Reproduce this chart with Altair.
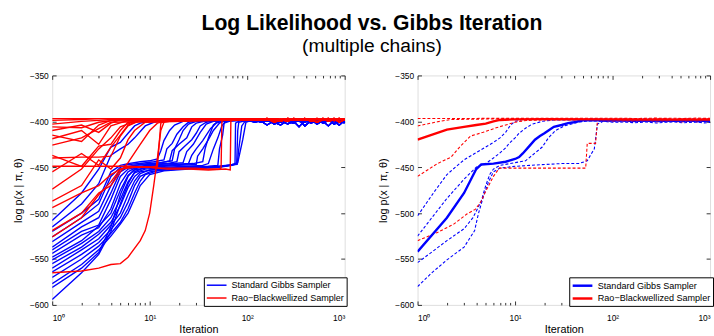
import altair as alt
import pandas as pd

# ---------------- labels / categories ----------------
GIBBS = "Standard Gibbs Sampler"
RAO = "Rao\u2212Blackwellized Sampler"
SAMPLERS = [GIBBS, RAO]
COLORS = ["#0000ff", "#ff0000"]

X_DOMAIN = [1, 1000]
Y_DOMAIN = [-600, -350]
X_MAJOR = [1, 10, 100, 1000]
X_MAJOR_TEXT = ["10\u2070", "10\u00b9", "10\u00b2", "10\u00b3"]
X_MINOR = [2, 3, 4, 5, 6, 7, 8, 9, 20, 30, 40, 50, 60, 70, 80, 90,
           200, 300, 400, 500, 600, 700, 800, 900]
Y_TICKS = [-600, -550, -500, -450, -400, -350]

# ---------------- left panel: individual chains (iteration, log p) ----------------
GIBBS_01 = [(1, -508), (2, -478), (3, -452), (4, -428), (5, -423), (6, -413), (7, -405), (8, -402), (10, -400), (12, -399), (20, -398), (40, -399), (60, -398), (100, -399)]
GIBBS_02 = [(1, -515), (2, -490), (3, -468), (4, -437), (5, -430), (6, -425), (7, -418), (9, -405), (11, -401), (14, -399), (30, -398), (100, -399)]
GIBBS_03 = [(1, -520), (2, -500), (3, -485), (4, -455), (5, -448), (6, -446), (8, -444), (10, -443), (12, -441), (13, -432), (14, -421), (16, -410), (18, -404), (22, -400), (40, -398), (100, -399)]
GIBBS_04 = [(1, -526), (2, -505), (3, -490), (4, -460), (5, -450), (6, -447), (8, -446), (11, -444), (14, -442), (15, -430), (17, -424), (19, -414), (22, -406), (25, -401), (35, -399), (100, -398)]
GIBBS_05 = [(1, -531), (2, -510), (3, -498), (4, -470), (5, -452), (6, -449), (8, -447), (10, -446), (13, -445), (16, -443), (17, -432), (20, -425), (24, -418), (27, -406), (30, -402), (40, -399), (100, -399)]
GIBBS_06 = [(1, -537), (2, -515), (3, -505), (4, -478), (5, -455), (6, -450), (7, -448), (10, -447), (15, -446), (19, -444), (20, -433), (23, -427), (27, -420), (30, -413), (33, -405), (38, -401), (50, -399), (100, -398)]
GIBBS_07 = [(1, -540), (2, -520), (3, -513), (4, -485), (5, -460), (6, -452), (8, -449), (12, -447), (18, -446), (22, -445), (24, -433), (28, -425), (33, -412), (38, -403), (45, -400), (100, -399)]
GIBBS_08 = [(1, -544), (2, -524), (3, -516), (4, -495), (5, -468), (6, -455), (7, -451), (10, -449), (15, -448), (25, -446), (27, -437), (30, -430), (35, -421), (42, -408), (48, -402), (60, -399), (100, -398)]
GIBBS_09 = [(1, -548), (2, -530), (3, -514), (4, -500), (5, -475), (6, -459), (7, -453), (10, -450), (20, -448), (30, -447), (31, -438), (35, -430), (40, -420), (45, -410), (52, -402), (60, -399), (100, -399)]
GIBBS_10 = [(1, -551), (2, -533), (3, -520), (4, -505), (5, -485), (6, -466), (7, -456), (9, -452), (15, -450), (25, -449), (35, -448), (40, -446), (45, -430), (50, -418), (55, -405), (60, -400), (100, -398)]
GIBBS_11 = [(1, -555), (2, -537), (3, -523), (4, -510), (5, -492), (6, -472), (7, -460), (8, -455), (12, -452), (20, -450), (40, -449), (50, -448), (52, -430), (56, -415), (58, -402), (70, -399), (100, -399)]
GIBBS_12 = [(1, -560), (2, -540), (3, -528), (4, -513), (5, -500), (6, -480), (7, -465), (8, -457), (10, -453), (20, -451), (40, -450), (60, -449), (75, -447), (76, -402), (85, -399), (100, -398)]
GIBBS_13 = [(1, -564), (2, -545), (3, -532), (4, -518), (5, -505), (6, -488), (7, -470), (8, -460), (10, -455), (15, -452), (30, -451), (50, -450), (70, -448), (78, -446), (80, -410), (82, -401), (100, -399)]
GIBBS_14 = [(1, -570), (2, -550), (3, -536), (4, -522), (5, -510), (6, -495), (7, -478), (8, -465), (9, -458), (12, -454), (20, -452), (40, -450), (60, -448), (79, -447), (82, -430), (88, -405), (95, -400), (110, -399)]
GIBBS_15 = [(1, -577), (2, -556), (3, -540), (4, -525), (5, -512), (6, -500), (7, -484), (8, -470), (10, -458), (14, -454), (25, -452), (50, -450), (70, -447), (80, -445), (90, -420), (97, -401), (110, -399)]
GIBBS_16 = [(1, -581), (2, -560), (3, -543), (4, -515), (5, -480), (6, -460), (7, -452), (9, -448), (13, -445), (17, -443), (18, -430), (20, -420), (22, -410), (25, -403), (30, -400), (100, -399)]
GIBBS_17 = [(1, -594), (2, -565), (3, -545), (4, -520), (5, -490), (6, -468), (7, -455), (9, -450), (12, -448), (20, -447), (28, -446), (35, -444), (37, -430), (40, -418), (45, -404), (50, -400), (100, -398)]

RAO_01 = [(1, -397), (2, -397), (5, -397), (10, -397), (30, -397), (100, -397)]
RAO_02 = [(1, -399), (2, -398), (3, -397), (10, -397), (100, -397)]
RAO_03 = [(1, -403), (2, -400), (3, -399), (4, -398), (100, -398)]
RAO_04 = [(1, -406), (2, -407), (3, -401), (5, -398), (100, -397)]
RAO_05 = [(1, -410), (2, -404), (3, -412), (4, -402), (5, -398), (100, -398)]
RAO_06 = [(1, -415), (2, -422), (3, -404), (4, -399), (100, -397)]
RAO_07 = [(1, -419), (2, -410), (3, -425), (4, -405), (6, -399), (100, -398)]
RAO_08 = [(1, -426), (2, -418), (3, -408), (4, -401), (100, -398)]
RAO_09 = [(1, -437), (2, -449), (3, -427), (4, -425), (5, -410), (6, -401), (100, -397)]
RAO_10 = [(1, -440), (2, -439), (3, -439), (4, -438), (5, -416), (6, -405), (8, -399), (100, -398)]
RAO_11 = [(1, -449), (2, -449), (4, -449), (6, -449), (10, -450), (12, -451), (20, -451), (30, -451), (40, -452), (52, -452), (54, -451), (55, -400), (60, -398), (100, -398)]
RAO_12 = [(1, -455), (2, -435), (3, -448), (4, -428), (5, -415), (6, -404), (8, -399), (100, -398)]
RAO_13 = [(1, -474), (2, -452), (3, -430), (4, -418), (5, -406), (7, -400), (100, -398)]
RAO_14 = [(1, -487), (2, -470), (3, -442), (4, -452), (5, -440), (6, -420), (7, -410), (9, -401), (100, -398)]
RAO_15 = [(1, -494), (2, -478), (3, -470), (4, -458), (5, -452), (7, -450), (10, -450), (15, -452), (25, -452), (40, -453), (60, -452), (67, -453), (68, -400), (72, -398), (100, -398)]
RAO_16 = [(1, -519), (2, -500), (3, -478), (4, -470), (5, -455), (6, -445), (8, -425), (10, -410), (12, -402), (15, -399), (100, -398)]
RAO_17 = [(1, -526), (2, -505), (3, -480), (4, -466), (5, -452), (6, -450), (10, -450), (12, -449), (13, -402), (15, -399), (100, -398)]
RAO_18 = [(1, -565), (2, -563), (3, -560), (4, -556), (5, -555), (6, -548), (8, -530), (9, -519), (10, -500), (11, -470), (12, -440), (13, -410), (14, -401), (20, -398), (100, -398)]

# converged tails (iterations 120 .. 1000)
TAIL_IT = [120, 140, 160, 190, 220, 260, 300, 340, 390, 450, 520, 600, 680, 780, 880, 1000]
GIBBS_TAIL_A = [-399, -401, -398, -403, -399, -400, -402, -398, -405, -399, -400, -401, -398, -403, -400, -401]
GIBBS_TAIL_B = [-398, -400, -404, -399, -401, -398, -400, -406, -399, -400, -398, -402, -399, -400, -404, -399]
GIBBS_TAIL_C = [-400, -398, -399, -401, -404, -399, -398, -400, -401, -398, -403, -399, -400, -398, -399, -402]
GIBBS_TAIL_D = [-401, -399, -400, -398, -399, -403, -400, -399, -398, -402, -399, -400, -405, -399, -401, -400]
RAO_TAIL_A = [-398, -397, -399, -398, -400, -397, -398, -399, -397, -398, -401, -398, -397, -399, -398, -397]
RAO_TAIL_B = [-397, -399, -398, -397, -398, -400, -397, -398, -399, -397, -398, -397, -400, -398, -397, -399]
RAO_TAIL_C = [-399, -398, -397, -401, -398, -397, -399, -398, -397, -400, -397, -399, -398, -397, -401, -398]

# ---------------- right panel: mean (solid) and spread (dashed) ----------------
GIBBS_MEAN = [(1, -542), (2, -505), (3, -478), (4, -452), (4.5, -447), (6, -446), (8, -444), (10, -441), (11, -439), (12, -435), (14, -427), (16, -420), (18, -416), (20, -413), (22, -410), (25, -406), (30, -404), (35, -402), (40, -401), (50, -399), (60, -398.5), (100, -398.8)]
GIBBS_Q1 = [(1, -503), (1.5, -476), (2, -458), (2.5, -449), (3, -442), (4, -434), (5, -428), (6, -423), (7, -418), (8, -412), (9, -404), (10, -400), (12, -398), (100, -397.8)]
GIBBS_Q2 = [(1, -525), (2, -484), (3, -463), (4, -450), (5, -446), (6, -440), (6.9, -435), (8, -429), (8.7, -424), (10, -418), (11, -413), (13, -407), (15, -403), (19, -400), (25, -398.5), (100, -398.6)]
GIBBS_Q3 = [(1, -554), (1.5, -540), (2, -530), (3, -517), (3.7, -505), (4.5, -487), (5, -470), (5.5, -458), (6, -452), (7, -448), (10, -445), (12.8, -443), (15, -437), (19, -428), (22, -418), (26, -410), (32, -405), (44, -401), (55, -399.5), (100, -400)]
GIBBS_Q4 = [(1, -580), (1.4, -565), (2, -551), (3, -537), (3.85, -519), (4.2, -501), (4.7, -483), (5.3, -467), (6, -455), (7, -451), (10, -449), (20, -447), (30, -446), (45, -446), (55, -443), (60, -436), (65, -430), (70, -403), (80, -400), (100, -401)]
RAO_MEAN = [(1, -420), (2, -409), (3, -406), (4, -404), (5, -402.5), (6, -400), (7, -398.5), (10, -397.8), (20, -397.6), (100, -397.9)]
RAO_Q1 = [(1, -397), (5, -396.8), (20, -396.7), (100, -396.7)]
RAO_Q2 = [(1, -405), (1.6, -400.5), (2.2, -398), (5, -397.5), (100, -397.5)]
RAO_Q3 = [(1, -460), (1.6, -446), (2.2, -439), (2.7, -428), (3.5, -416), (4.7, -412), (6.4, -407), (10, -401), (13, -399), (20, -398.5), (100, -398.7)]
RAO_Q4 = [(1, -530), (1.6, -521), (2.35, -512), (3.2, -501), (3.9, -496), (4.5, -487), (4.9, -478), (5.3, -471), (6, -460), (6.9, -451), (10, -451), (20, -451), (40, -451), (53, -451), (55, -424), (67, -424), (70, -399), (100, -399.8)]

TAIL2_IT = [130, 170, 220, 280, 350, 430, 520, 620, 740, 870, 1000]
GIBBS_MEAN_TAIL = [-398.8, -399.2, -398.9, -399.3, -399.0, -399.4, -399.1, -399.3, -399.0, -399.4, -399.2]
GIBBS_Q1_TAIL = [-397.6, -397.9, -397.5, -397.8, -397.6, -398.0, -397.7, -397.5, -397.9, -397.6, -397.8]
GIBBS_Q2_TAIL = [-398.5, -398.8, -398.3, -398.9, -398.6, -398.4, -398.9, -398.5, -398.7, -398.4, -398.8]
GIBBS_Q3_TAIL = [-399.8, -400.3, -399.6, -400.5, -400.0, -399.7, -400.4, -399.9, -400.6, -400.0, -400.3]
GIBBS_Q4_TAIL = [-400.8, -401.5, -400.6, -401.8, -401.0, -400.7, -401.6, -401.1, -400.9, -401.7, -401.2]
RAO_MEAN_TAIL = [-398.0, -397.8, -398.1, -397.9, -398.0, -398.2, -397.9, -398.0, -398.1, -397.8, -398.0]
RAO_Q1_TAIL = [-396.6, -396.9, -396.7, -396.5, -396.8, -396.6, -396.9, -396.7, -396.5, -396.8, -396.6]
RAO_Q2_TAIL = [-397.4, -397.7, -397.3, -397.6, -397.5, -397.8, -397.4, -397.6, -397.3, -397.7, -397.5]
RAO_Q3_TAIL = [-398.6, -399.0, -398.5, -399.2, -398.7, -398.9, -399.3, -398.6, -399.0, -398.8, -399.1]
RAO_Q4_TAIL = [-399.6, -400.2, -399.5, -400.4, -399.8, -400.1, -400.5, -399.7, -400.3, -399.9, -400.2]

# ---------------- build tables ----------------
GIBBS_CHAINS = [GIBBS_01, GIBBS_02, GIBBS_03, GIBBS_04, GIBBS_05, GIBBS_06, GIBBS_07, GIBBS_08, GIBBS_09,
                GIBBS_10, GIBBS_11, GIBBS_12, GIBBS_13, GIBBS_14, GIBBS_15, GIBBS_16, GIBBS_17]
RAO_CHAINS = [RAO_01, RAO_02, RAO_03, RAO_04, RAO_05, RAO_06, RAO_07, RAO_08, RAO_09,
              RAO_10, RAO_11, RAO_12, RAO_13, RAO_14, RAO_15, RAO_16, RAO_17, RAO_18]
GIBBS_TAILS = [GIBBS_TAIL_A, GIBBS_TAIL_B, GIBBS_TAIL_C, GIBBS_TAIL_D]
RAO_TAILS = [RAO_TAIL_A, RAO_TAIL_B, RAO_TAIL_C]


def chain_table(chains, tails, tail_it, sampler, prefix):
    rows = []
    for k, head in enumerate(chains):
        tail = tails[k % len(tails)]
        cid = f"{prefix}{k:02d}"
        for it, ll in head:
            rows.append({"it": it, "ll": ll, "chain": cid, "sampler": sampler})
        for it, ll in zip(tail_it, tail):
            rows.append({"it": it, "ll": ll, "chain": cid, "sampler": sampler})
    return pd.DataFrame(rows)


left_gibbs = chain_table(GIBBS_CHAINS, GIBBS_TAILS, TAIL_IT, GIBBS, "g")
left_rao = chain_table(RAO_CHAINS, RAO_TAILS, TAIL_IT, RAO, "r")

right_gibbs_mean = chain_table([GIBBS_MEAN], [GIBBS_MEAN_TAIL], TAIL2_IT, GIBBS, "gm")
right_rao_mean = chain_table([RAO_MEAN], [RAO_MEAN_TAIL], TAIL2_IT, RAO, "rm")
right_gibbs_q = chain_table([GIBBS_Q1, GIBBS_Q2, GIBBS_Q3, GIBBS_Q4],
                            [GIBBS_Q1_TAIL, GIBBS_Q2_TAIL, GIBBS_Q3_TAIL, GIBBS_Q4_TAIL], TAIL2_IT, GIBBS, "gq")
right_rao_q = chain_table([RAO_Q1, RAO_Q2, RAO_Q3, RAO_Q4],
                          [RAO_Q1_TAIL, RAO_Q2_TAIL, RAO_Q3_TAIL, RAO_Q4_TAIL], TAIL2_IT, RAO, "rq")

axis_df = pd.DataFrame({"it": X_DOMAIN, "ll": Y_DOMAIN})

# ---------------- chart ----------------
W, H = 297, 233
FONT = "Liberation Sans"
LABEL_EXPR = " : ".join(
    [f"datum.value == {v} ? '{t}'" for v, t in zip(X_MAJOR[:-1], X_MAJOR_TEXT[:-1])] + [f"'{X_MAJOR_TEXT[-1]}'"]
)

xs = alt.Scale(type="log", domain=X_DOMAIN, nice=False)
ys = alt.Scale(domain=Y_DOMAIN, nice=False, zero=False)
cs = alt.Scale(domain=SAMPLERS, range=COLORS)


def legend(stroke_w):
    return alt.Legend(
        title=None, orient="none", legendX=154, legendY=205,
        symbolType="M-1,0L3,0", symbolSize=100, symbolStrokeWidth=stroke_w,
        labelFont=FONT, labelFontSize=9.2, labelColor="black", labelOffset=14,
        fillColor="white", strokeColor="black", padding=2, rowPadding=1,
        labelLimit=300,
    )


def data_line(df, width, stroke_w, dash=None, const_color=None):
    kw = dict(strokeWidth=width, clip=True)
    if dash:
        kw["strokeDash"] = dash
    enc = dict(
        x=alt.X("it:Q", scale=xs, axis=None),
        y=alt.Y("ll:Q", scale=ys, axis=None),
        detail="chain:N",
    )
    if const_color:
        enc["color"] = alt.value(const_color)
    else:
        enc["color"] = alt.Color("sampler:N", scale=cs, legend=legend(stroke_w))
    return alt.Chart(df).mark_line(**kw).encode(**enc)


def carrier(xaxis, yaxis):
    return alt.Chart(axis_df).mark_point(opacity=0).encode(
        x=alt.X("it:Q", scale=xs, axis=xaxis),
        y=alt.Y("ll:Q", scale=ys, axis=yaxis),
    )


def frame_axes():
    lab = carrier(
        alt.Axis(orient="bottom", values=X_MAJOR, labelExpr=LABEL_EXPR, ticks=False, domain=False, grid=False,
                 labelFont=FONT, labelFontSize=8.5, labelPadding=9, labelColor="black",
                 title="Iteration", titleFont=FONT, titleFontSize=11, titleFontWeight="normal",
                 titleColor="black", titlePadding=2),
        alt.Axis(orient="left", values=Y_TICKS, ticks=False, domain=False, grid=False,
                 labelFont=FONT, labelFontSize=8.5, labelPadding=4, labelColor="black",
                 title="log p(x | \u03c0, \u03b8)", titleFont=FONT, titleFontSize=11,
                 titleFontWeight="normal", titleColor="black", titlePadding=6),
    )
    tick_common = dict(labels=False, domain=False, grid=False, title=None, tickColor="black", tickWidth=0.8)
    in_a = carrier(
        alt.Axis(orient="top", offset=-H, values=X_MAJOR, tickSize=4, **tick_common),
        alt.Axis(orient="right", offset=-W, values=Y_TICKS, tickSize=4, **tick_common),
    )
    in_b = carrier(
        alt.Axis(orient="bottom", offset=-H, values=X_MAJOR, tickSize=4, **tick_common),
        alt.Axis(orient="left", offset=-W, values=Y_TICKS, tickSize=4, **tick_common),
    )
    min_a = carrier(alt.Axis(orient="top", offset=-H, values=X_MINOR, tickSize=2.5, **tick_common), None)
    min_b = carrier(alt.Axis(orient="bottom", offset=-H, values=X_MINOR, tickSize=2.5, **tick_common), None)
    return [lab, in_a, in_b, min_a, min_b]


left = alt.layer(
    data_line(left_gibbs, 1.4, 1.5),
    data_line(left_rao, 1.4, 1.5),
    *frame_axes(),
).resolve_axis(x="independent", y="independent").properties(width=W, height=H)

right = alt.layer(
    data_line(right_gibbs_q, 1.1, 2.5, dash=[3, 2], const_color=COLORS[0]),
    data_line(right_rao_q, 1.1, 2.5, dash=[3, 2], const_color=COLORS[1]),
    data_line(right_gibbs_mean, 2.4, 2.5),
    data_line(right_rao_mean, 2.4, 2.5),
    *frame_axes(),
).resolve_axis(x="independent", y="independent").properties(width=W, height=H)

chart = alt.hconcat(left, right, spacing=29).resolve_scale(color="independent").properties(
    title=alt.TitleParams(
        "Log Likelihood vs. Gibbs Iteration", subtitle="(multiple chains)",
        font=FONT, fontSize=21.5, fontWeight="bold", color="black",
        subtitleFont=FONT, subtitleFontSize=19.5, subtitleColor="black",
        anchor="middle", subtitlePadding=3, offset=16, dx=9,
    ),
    padding={"left": 12, "right": 0, "top": 10, "bottom": 0},
).configure_view(stroke="black", strokeWidth=1).configure(background="white")

chart.save("out.html", embed_options={"renderer": "svg", "actions": False})
